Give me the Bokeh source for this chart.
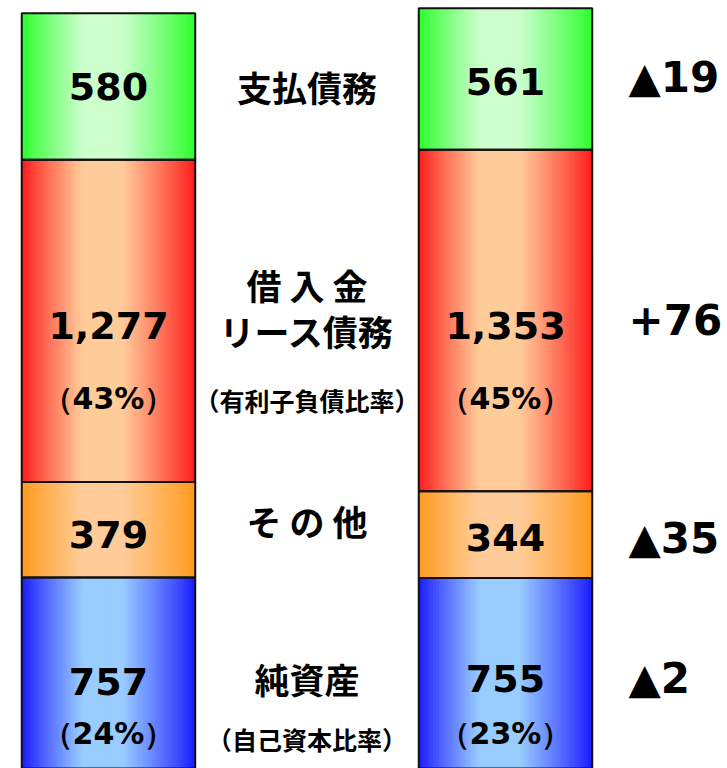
import numpy as np
from bokeh.plotting import figure
from bokeh.models import Range1d, ColumnDataSource
from bokeh.core.properties import value
from bokeh.embed import file_html
from bokeh.resources import INLINE

# ---------------- data (bottom -> top) ----------------
segments = ["純資産", "その他", "借入金・リース債務", "支払債務"]
prev_values = [757, 379, 1277, 580]
curr_values = [755, 344, 1353, 561]
prev_ratio = ["（24%）", "", "（43%）", ""]
curr_ratio = ["（23%）", "", "（45%）", ""]
diff_labels = ["▲2", "▲35", "+76", "▲19"]
center_labels = [["純資産", "（自己資本比率）"],
                 ["そ の 他"],
                 ["借 入 金", "リース債務", "（有利子負債比率）"],
                 ["支払債務"]]

# ---------------- style ----------------
edge_colors = [(25, 25, 255), (255, 153, 25), (255, 25, 25), (40, 255, 40)]
center_colors = [(153, 204, 255), (255, 204, 153), (255, 204, 153), (204, 255, 204)]
BAR_W = 0.437
X_PREV, X_CURR, X_LABEL, X_DIFF = 0.0, 1.0, 0.5, 1.31
NUM_FONT = value("DejaVu Sans")
JP_FONT = value("Noto Sans CJK JP")

# pixel offsets for text lines
prev_val_dy = [8, 5, 5, 0]
curr_val_dy = [5, 3, 5, 2]
ratio_dy = [60, 0, 78, 0]
center_dy = [[5, 66], [-9], [-36, 10, 79], [0]]
diff_dy = [5, 4, -1, -2]

p = figure(width=727, height=768, output_backend="svg", toolbar_location=None,
           x_range=Range1d(-0.2720, 1.5592), y_range=Range1d(0, 3044),
           min_border=0, outline_line_color=None)
p.xaxis.visible = False
p.yaxis.visible = False
p.grid.visible = False
p.background_fill_color = "white"
p.border_fill_color = "white"


def profile(t):
    # 0 at edges -> 1 at center plateau
    if t < 0.35:
        f = t / 0.35
    elif t <= 0.58:
        f = 1.0
    else:
        f = (1 - t) / 0.42
    return f ** 0.9


def mix(c1, c2, f):
    return "#%02x%02x%02x" % tuple(int(round(a + (b - a) * f)) for a, b in zip(c1, c2))


N = 60
strip = dict(left=[], right=[], bottom=[], top=[], color=[])
outline = dict(left=[], right=[], bottom=[], top=[])
for cx, vals in ((X_PREV, prev_values), (X_CURR, curr_values)):
    tops = np.cumsum(vals)
    bottoms = tops - np.array(vals)
    x0 = cx - BAR_W / 2
    dx = BAR_W / N
    for j in range(len(vals)):
        for k in range(N):
            l = x0 + k * dx
            r = min(x0 + (k + 1.7) * dx, x0 + BAR_W)
            strip["left"].append(l)
            strip["right"].append(r)
            strip["bottom"].append(bottoms[j])
            strip["top"].append(tops[j])
            strip["color"].append(mix(edge_colors[j], center_colors[j], profile((k + 0.5) / N)))
        outline["left"].append(x0)
        outline["right"].append(x0 + BAR_W)
        outline["bottom"].append(bottoms[j])
        outline["top"].append(tops[j])

p.quad(source=ColumnDataSource(strip), left="left", right="right", bottom="bottom",
       top="top", fill_color="color", line_color=None)
p.quad(source=ColumnDataSource(outline), left="left", right="right", bottom="bottom",
       top="top", fill_color=None, line_color="#111111", line_width=2)

prev_mid = np.cumsum(prev_values) - np.array(prev_values) / 2
curr_mid = np.cumsum(curr_values) - np.array(curr_values) / 2

# value labels
vx, vy, vt, vdy = [], [], [], []
rx, ry, rt, rdy = [], [], [], []
for cx, vals, mids, ratios, vd in ((X_PREV, prev_values, prev_mid, prev_ratio, prev_val_dy),
                                   (X_CURR, curr_values, curr_mid, curr_ratio, curr_val_dy)):
    for j, v in enumerate(vals):
        vx.append(cx); vy.append(mids[j]); vt.append(f"{v:,}"); vdy.append(vd[j])
        if ratios[j]:
            rx.append(cx); ry.append(mids[j]); rt.append(ratios[j]); rdy.append(ratio_dy[j])

p.text(source=ColumnDataSource(dict(x=vx, y=vy, t=vt, dy=vdy)), x="x", y="y", text="t",
       y_offset="dy", text_align="center", text_baseline="middle",
       text_font=NUM_FONT, text_font_style="bold", text_font_size="38px", text_color="black")
p.text(source=ColumnDataSource(dict(x=rx, y=ry, t=rt, dy=rdy)), x="x", y="y", text="t",
       y_offset="dy", text_align="center", text_baseline="middle",
       text_font=NUM_FONT, text_font_style="bold", text_font_size="30px", text_color="black")

# center category labels
cx_, cy_, ct_, cdy_, cs_ = [], [], [], [], []
for j, lines in enumerate(center_labels):
    for li, line in enumerate(lines):
        cx_.append(X_LABEL); cy_.append(prev_mid[j]); ct_.append(line); cdy_.append(center_dy[j][li])
        cs_.append("25px" if line.startswith("（") else "35px")
p.text(source=ColumnDataSource(dict(x=cx_, y=cy_, t=ct_, dy=cdy_, s=cs_)), x="x", y="y",
       text="t", y_offset="dy", text_align="center", text_baseline="middle",
       text_font=JP_FONT, text_font_style="bold", text_font_size="s", text_color="black")

# difference labels
p.text(source=ColumnDataSource(dict(x=[X_DIFF] * 4, y=list(curr_mid), t=diff_labels, dy=diff_dy)),
       x="x", y="y", text="t", y_offset="dy", text_align="left", text_baseline="middle",
       text_font=NUM_FONT, text_font_style="bold", text_font_size="42px", text_color="black")

open("out.html", "w").write(file_html(p, INLINE))
